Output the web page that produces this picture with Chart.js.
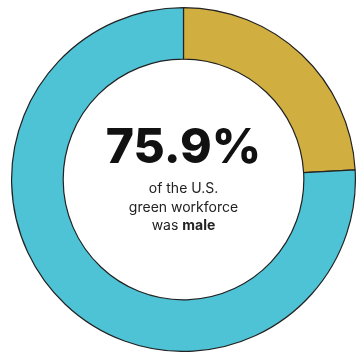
<!DOCTYPE html>
<html>
<head>
<meta charset="utf-8">
<script src="https://cdn.jsdelivr.net/npm/chart.js@4/dist/chart.umd.min.js"></script>
<style>
  body { margin: 0; background: #fff; }
  canvas { display: block; }
</style>
</head>
<body>
<canvas id="donut" width="356" height="352"></canvas>
<script>
let labels = ['Female', 'Male'];
let shares = [24.1, 75.9];
let colors = ['#d1ae40', '#4fc3d6'];

let headline = '75.9%';
let captionLines = ['of the U.S.', 'green workforce'];
let lastLine = ['was ', 'male'];

let centerText = {
  id: 'centerText',
  afterDraw(chart) {
    let ctx = chart.ctx;
    let meta = chart.getDatasetMeta(0).data[0];
    let cx = meta.x;
    let cy = meta.y;
    ctx.save();
    ctx.fillStyle = '#111';
    ctx.textAlign = 'center';
    ctx.textBaseline = 'alphabetic';
    ctx.font = '800 48px Inter';
    ctx.fillText(headline, cx, cy - 17);

    ctx.fillStyle = '#222';
    ctx.font = '400 14px Inter';
    ctx.fillText(captionLines[0], cx, cy + 13);
    ctx.fillText(captionLines[1], cx, cy + 32);

    // last line mixes regular and bold
    let reg = '400 14px Inter', bold = '700 14px Inter';
    ctx.font = reg;
    let w1 = ctx.measureText(lastLine[0]).width;
    ctx.font = bold;
    let w2 = ctx.measureText(lastLine[1]).width;
    let x0 = cx - (w1 + w2) / 2;
    ctx.textAlign = 'left';
    ctx.font = reg;
    ctx.fillText(lastLine[0], x0, cy + 50);
    ctx.font = bold;
    ctx.fillText(lastLine[1], x0 + w1, cy + 50);
    ctx.restore();
  }
};

let donut = new Chart(document.getElementById('donut'), {
  type: 'doughnut',
  data: {
    labels: labels,
    datasets: [{
      data: shares,
      backgroundColor: colors,
      borderColor: '#222',
      borderWidth: 1.2
    }]
  },
  options: {
    responsive: false,
    animation: false,
    cutout: '70%',
    layout: { padding: { left: 11, top: 7, right: 0, bottom: 0 } },
    plugins: {
      legend: { display: false },
      tooltip: { enabled: false }
    }
  },
  plugins: [centerText]
});
</script>
</body>
</html>
